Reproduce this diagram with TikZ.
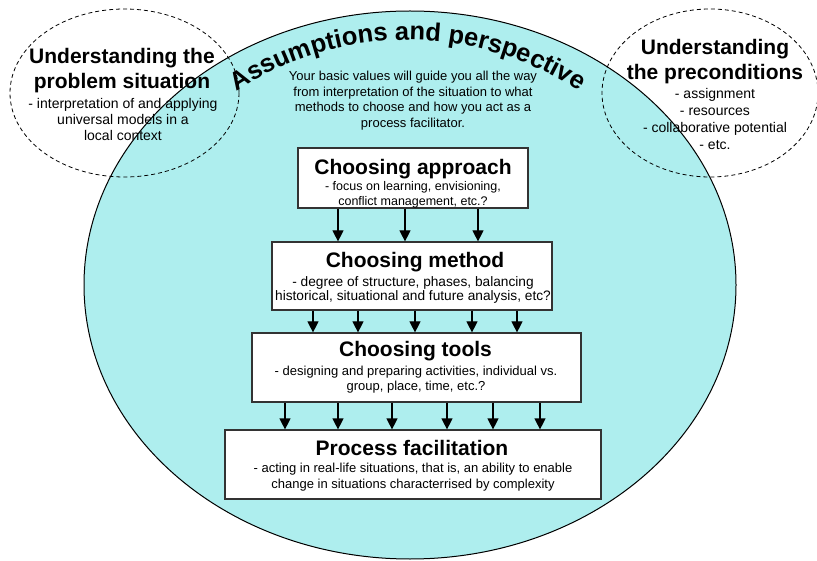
\documentclass[tikz,border=0pt]{standalone}
\usepackage{fontspec}
\setmainfont{Liberation Sans}
\usetikzlibrary{arrows.meta,decorations.text,shapes.geometric}
\definecolor{cyanfill}{RGB}{174,238,238}
\tikzset{
  boxst/.style={draw=black!80, line width=1.2pt, fill=white, inner sep=0pt},
  ttl/.style={font=\fontsize{21}{25}\selectfont\bfseries, inner sep=0pt, anchor=base, align=center},
  subtxt/.style={inner sep=0pt, anchor=base, align=center},
  arr/.style={line width=1.2pt, -{Triangle[width=11pt,length=11pt]}},
  dashell/.style={draw=black, line width=0.8pt, dash pattern=on 4pt off 3pt}
}
\begin{document}
\begin{tikzpicture}[x=1pt,y=-1pt]
\useasboundingbox (0,0) rectangle (817,561);
% big ellipse
\node[draw=black, line width=1pt, fill=cyanfill, shape=ellipse, minimum width=652pt, minimum height=548pt, inner sep=0pt] (big) at (410,285) {};
% dashed ellipses
\draw[dashell] (124.5,93) ellipse [x radius=114.5, y radius=84];
\draw[dashell] (710,93) ellipse [x radius=108, y radius=84];
% curved title
\path[decorate, decoration={text along path, text align=center,
  text={|\fontsize{25.5}{26}\selectfont\bfseries|Assumptions and perspective}}]
  plot[domain=128:52, samples=120] ({408+310*cos(\x)},{350-310*sin(\x)});
% intro text
\node[subtxt, font=\fontsize{13}{15.5}\selectfont] (intro) at (413,127.3)
  {Your basic values will guide you all the way\\from interpretation of the situation to what\\methods to choose and how you act as a\\process facilitator.};
% left ellipse text
\node[ttl] (lt) at (122,88.3) {Understanding the\\problem situation};
\node[subtxt, font=\fontsize{14}{16.2}\selectfont] (ls) at (123,140.7)
  {- interpretation of and applying\\universal models in a\\local context};
% right ellipse text
\node[ttl] (rt) at (715,80) {Understanding\\the preconditions};
\node[subtxt, font=\fontsize{14}{17.2}\selectfont] (rs) at (715,150)
  {- assignment\\- resources\\- collaborative potential\\- etc.};
% boxes
\node[boxst, minimum width=230pt, minimum height=60pt] (b1) at (413,178) {};
\node[boxst, minimum width=280pt, minimum height=68pt] (b2) at (412,276) {};
\node[boxst, minimum width=329pt, minimum height=69pt] (b3) at (416.5,367.5) {};
\node[boxst, minimum width=376pt, minimum height=69pt] (b4) at (413,464.5) {};
% box texts
\node[ttl] (t1) at (413,174.5) {Choosing approach};
\node[subtxt, font=\fontsize{12.5}{15.5}\selectfont] (s1) at (413,205.7)
  {- focus on learning, envisioning,\\conflict management, etc.?};
\node[ttl] (t2) at (415,268) {Choosing method};
\node[subtxt, font=\fontsize{13.7}{14.5}\selectfont] (s2) at (413,300.7)
  {- degree of structure, phases, balancing\\historical, situational and future analysis, etc?};
\node[ttl] (t3) at (415.5,357) {Choosing tools};
\node[subtxt, font=\fontsize{13}{15}\selectfont] (s3) at (416,391)
  {- designing and preparing activities, individual vs.\\group, place, time, etc.?};
\node[ttl] (t4) at (412,455.7) {Process facilitation};
\node[subtxt, font=\fontsize{13}{15.5}\selectfont] (s4) at (413,488)
  {- acting in real-life situations, that is, an ability to enable\\change in situations characterrised by complexity};
% arrows
\foreach \x in {338,405,478} \draw[arr] (b1.south -| \x,0) -- (b2.north -| \x,0);
\foreach \x in {313,358,415,472,517} \draw[arr] (b2.south -| \x,0) -- (b3.north -| \x,0);
\foreach \x in {285,338,392,447,493,540} \draw[arr] (b3.south -| \x,0) -- (b4.north -| \x,0);
\end{tikzpicture}
\end{document}
